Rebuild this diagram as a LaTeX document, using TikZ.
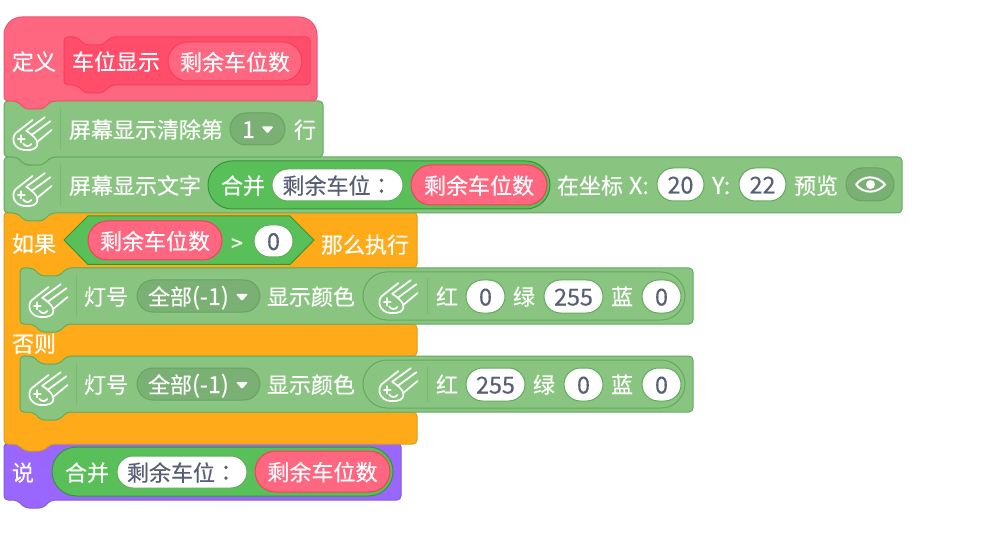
\documentclass[tikz,border=0pt]{standalone}
\usepackage{fontspec}
\setmainfont[RawFeature={embolden=0.3}]{Noto Sans CJK SC}
\newfontfamily\cjktc[RawFeature={embolden=0.3}]{Noto Sans CJK TC}
\definecolor{hatF}{HTML}{FF6680}\definecolor{hatB}{HTML}{F2506C}
\definecolor{hatIn}{HTML}{FF4D6A}\definecolor{hatInB}{HTML}{F73E5C}
\definecolor{grnF}{HTML}{89C481}\definecolor{grnB}{HTML}{62AB5D}
\definecolor{grnSep}{HTML}{7CB975}\definecolor{ddF}{HTML}{7BB074}\definecolor{ddB}{HTML}{67A561}
\definecolor{opF}{HTML}{59C059}\definecolor{opB}{HTML}{389438}
\definecolor{orF}{HTML}{FFAB19}\definecolor{orB}{HTML}{DE9A20}
\definecolor{puF}{HTML}{9966FF}\definecolor{puB}{HTML}{855CD6}
\definecolor{inkC}{HTML}{575E75}
\newcommand{\lat}[1]{{\fontsize{17.5pt}{18pt}\selectfont #1}}
\tikzset{
  lbl/.style={anchor=west,inner sep=0pt,outer sep=0pt,text=white,font=\fontsize{16.5pt}{18pt}\selectfont,text height=15pt,text depth=1.5pt},
  pillbase/.style={draw,line width=0.75pt,inner sep=0pt,outer sep=0pt,font=\fontsize{16.5pt}{18pt}\selectfont,text height=15pt,text depth=1.5pt,text=white,align=center},
  whitepill/.style={pillbase,fill=white,draw=grnB,text=inkC},
  redpill/.style={pillbase,fill=hatF,draw=hatInB},
  argpill/.style={pillbase,fill=hatF,draw=hatInB},
  ddpill/.style={pillbase,fill=ddF,draw=ddB},
  oppill/.style={pillbase,fill=opF,draw=opB},
  grnpill/.style={pillbase,fill=grnF,draw=grnB},
  grnblock/.style={fill=grnF,draw=grnB,line width=0.75pt},
  stroke/.style={draw=white,line width=1.3pt,line cap=round,line join=round},
  sepline/.style={draw=grnSep,line width=0.75pt}
}
\newcommand{\stackblock}[5]{%
  \draw[#1,rounded corners=3pt] (#2,#3) -- ({#2+13},#3) -- ({#2+21},{#3+8}) -- ({#2+39},{#3+8}) -- ({#2+47},#3)
    -- (#4,#3) -- (#4,#5) -- ({#2+47},#5) -- ({#2+39},{#5+8}) -- ({#2+21},{#5+8}) -- ({#2+13},#5) -- (#2,#5) -- cycle;}
\newcommand{\pill}[7]{%
  \pgfmathsetmacro\pw{(#4-#3)*0.75}\pgfmathsetmacro\ph{(#6-#5)*0.75}\pgfmathsetmacro\pr{(#6-#5)*0.375}%
  \node[#1,minimum width=\pw pt,minimum height=\ph pt,rounded corners=\pr pt] (#2) at ({(#3+#4)/2},{(#5+#6)/2}) {#7};}
\newcommand{\comet}[2]{%
  \begin{scope}[shift={({#1+3.5},{#2+9})},x=0.28pt,y=-0.3pt]
    \draw[stroke] (67,25) -- (22,58) .. controls (8,72) and (18,98) .. (45,100) -- (60,100) .. controls (78,98) and (84,88) .. (78,76) .. controls (72,66) and (60,58) .. (50,52) -- (100,18);
    \draw[stroke] (65,62) -- (115,28);
    \draw[stroke] (82,78) -- (118,50);
    \draw[stroke] (28,72) -- (46,72) (37,63) -- (37,81);
    \draw[stroke] (42,84) .. controls (48,92) and (58,92) .. (64,85);
  \end{scope}}
\newcommand{\ddarrow}[2]{%
  \fill[white,rounded corners=0.8pt] ({#1-6},{#2-3}) -- ({#1+6},{#2-3}) -- (#1,{#2+4}) -- cycle;}
\begin{document}
\begin{tikzpicture}[x=0.75pt,y=-0.75pt]
\useasboundingbox (0,0) rectangle (991,534);
\fill[white] (0,0) rectangle (991,534);

% ---- say block
\stackblock{fill=puF,draw=puB,line width=0.75pt}{4}{443}{401}{500}
\node[lbl] (say) at (12,472) {说};
\pill{oppill}{joinC}{52}{393}{447}{496}{}
\node[lbl] (joinCt) at (65,472) {合并};
\pill{whitepill}{strC}{117}{247}{456}{488}{剩余车位{\cjktc ：}}
\pill{redpill}{varC}{255}{390}{451}{492}{剩余车位数}

% ---- if / else C block
\draw[fill=orF,draw=orB,line width=0.75pt,rounded corners=3pt]
  (4,212) -- (417,212) -- (417,268) -- (20,268) -- (20,324) -- (417,324) -- (417,356) -- (20,356) -- (20,412) -- (417,412) -- (417,444)
  -- (51,444) -- (43,451) -- (25,451) -- (17,444) -- (4,444) -- cycle;
\fill[orF] (19,262) rectangle (70,280);
\fill[orF] (19,350) rectangle (70,368);
\node[lbl] (ifL) at (12,243) {如果};
\node[lbl] (elseL) at (12,343) {否则};
\draw[fill=opF,draw=opB,line width=0.75pt] (64,240) -- (88,216) -- (290,216) -- (314,240) -- (290,264.5) -- (88,264.5) -- cycle;
\pill{redpill}{varB}{88}{222}{221}{260}{剩余车位数}
\node[lbl] (gt) at (231,242) {\fontsize{16pt}{18pt}\selectfont >};
\pill{whitepill}{zeroA}{254}{293}{225}{257}{\lat{0}}
\node[lbl] (thenL) at (321,244) {那么执行};

% ---- inner block 2
\stackblock{grnblock}{20}{356}{693}{412}
\comet{20}{356}
\draw[sepline] (76,363) -- (76,405);
\node[lbl] (lampB) at (84,384) {灯号};
\pill{ddpill}{ddB}{137}{260}{368}{400}{}
\node[lbl] (ddBt) at (148,384) {全部\lat{(-1)}};
\ddarrow{242}{385}
\node[lbl] (showB) at (267,384) {显示颜色};
\pill{grnpill}{rgbB}{363}{685}{360}{408}{}
\comet{370}{352}
\draw[sepline] (427,366) -- (427,402);
\node[lbl] (rB) at (436,384) {红};
\pill{whitepill}{rBv}{466}{525}{368}{401}{\lat{255}}
\node[lbl] (gB) at (533,384) {绿};
\pill{whitepill}{gBv}{564}{603}{368}{401}{\lat{0}}
\node[lbl] (bB) at (611,384) {蓝};
\pill{whitepill}{bBv}{642}{681}{368}{401}{\lat{0}}

% ---- inner block 1
\stackblock{grnblock}{20}{268}{693}{324}
\comet{20}{268}
\draw[sepline] (76,275) -- (76,317);
\node[lbl] (lampA) at (84,296) {灯号};
\pill{ddpill}{ddA}{137}{260}{280}{312}{}
\node[lbl] (ddAt) at (148,296) {全部\lat{(-1)}};
\ddarrow{242}{297}
\node[lbl] (showA) at (267,296) {显示颜色};
\pill{grnpill}{rgbA}{363}{685}{272}{320}{}
\comet{370}{264}
\draw[sepline] (427,278) -- (427,314);
\node[lbl] (rA) at (436,296) {红};
\pill{whitepill}{rAv}{466}{505}{280}{313}{\lat{0}}
\node[lbl] (gA) at (513,296) {绿};
\pill{whitepill}{gAv}{544}{603}{280}{313}{\lat{255}}
\node[lbl] (bA) at (611,296) {蓝};
\pill{whitepill}{bAv}{642}{681}{280}{313}{\lat{0}}

% ---- screen text block
\stackblock{grnblock}{4}{157}{902}{213}
\comet{4}{157}
\draw[sepline] (60,164) -- (60,206);
\node[lbl] (scrT) at (69,185) {屏幕显示文字};
\pill{oppill}{joinA}{208}{550}{161}{209}{}
\node[lbl] (joinAt) at (221,185) {合并};
\pill{whitepill}{strA}{272}{403}{169}{201}{剩余车位{\cjktc ：}}
\pill{redpill}{varA}{411}{547}{165}{205}{剩余车位数}
\node[lbl] (atL) at (557,185) {在坐标};
\node[lbl] (xL) at (629,185) {\lat{X:}};
\pill{whitepill}{xv}{657}{704}{168}{201}{\lat{20}}
\node[lbl] (yL) at (712,185) {\lat{Y:}};
\pill{whitepill}{yv}{739}{786}{168}{201}{\lat{22}}
\node[lbl] (prevL) at (794,185) {预览};
\pill{ddpill}{eyeD}{846}{894}{168}{201}{}
\draw[draw=white,line width=1.5pt,line join=round] (856,184.5) .. controls (863,175) and (877,175) .. (885,184.5) .. controls (877,194) and (863,194) .. (856,184.5) -- cycle;
\fill[white] (870.5,184.5) circle[radius=4.5];

% ---- clear block
\stackblock{grnblock}{4}{101}{323}{157}
\comet{4}{101}
\draw[sepline] (60,108) -- (60,150);
\node[lbl] (clrT) at (69,129) {屏幕显示清除第};
\pill{ddpill}{ddC}{230}{285}{113}{145}{}
\node[lbl] (ddCt) at (242,129) {\lat{1}};
\ddarrow{267.5}{129.5}
\node[lbl] (rowT) at (294,129) {行};

% ---- define hat
\draw[fill=hatF,draw=hatB,line width=0.75pt]
  (4,60) [rounded corners=13.5pt] -- (4,17) -- (317,17) -- (317,60)
  [rounded corners=3pt] -- (317,101) -- (51,101) -- (43,109) -- (25,109) -- (17,101) -- (4,101) -- cycle;
\node[lbl] (defL) at (12,61) {定义};
\stackblock{fill=hatIn,draw=hatInB,line width=0.75pt}{64}{37}{310}{85}
\node[lbl] (nameL) at (72,61) {车位显示};
\pill{argpill}{argV}{168}{302}{42}{81}{剩余车位数}
\end{tikzpicture}
\end{document}
